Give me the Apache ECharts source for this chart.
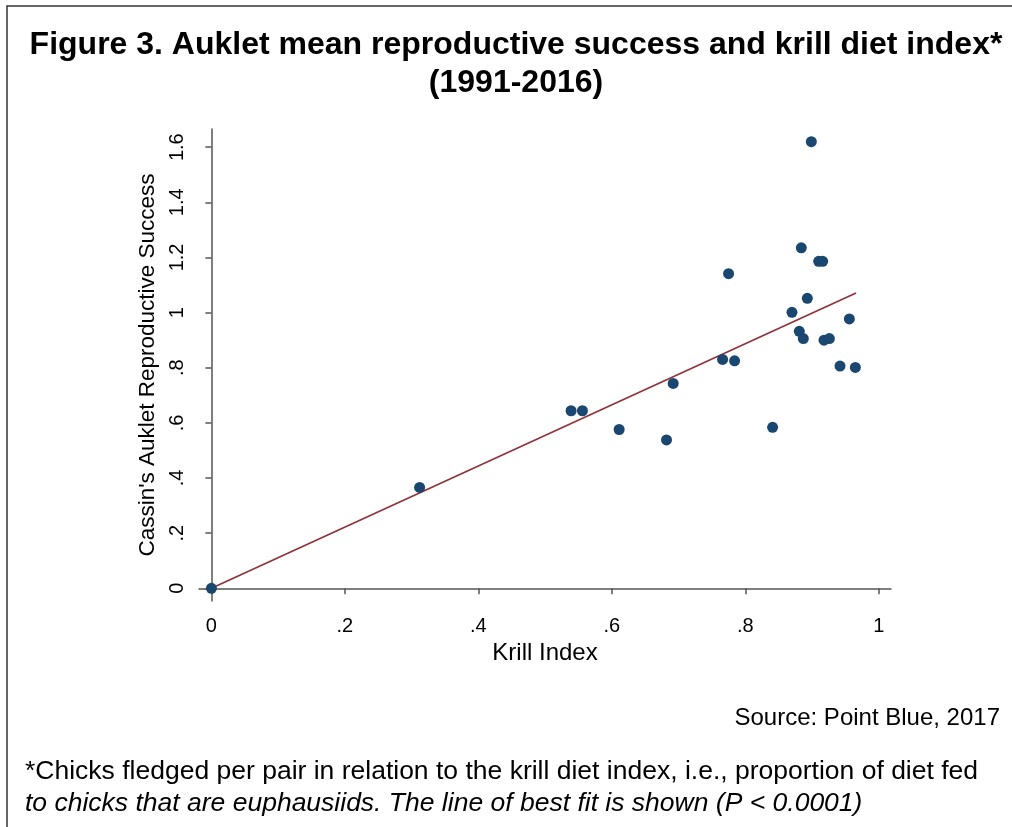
<!DOCTYPE html>
<html>
<head>
<meta charset="utf-8">
<script src="https://cdn.jsdelivr.net/npm/echarts@6/dist/echarts.min.js"></script>
<style>
  html, body { margin: 0; padding: 0; background: #fff; }
  #chart { width: 1012px; height: 827px; }
</style>
</head>
<body>
<div id="chart"></div>
<script>
// krill index (x) and reproductive success (y)
var krillIndex = [0, 0.312, 0.539, 0.556, 0.611, 0.682, 0.692, 0.766, 0.775, 0.784,
    0.841, 0.870, 0.881, 0.884, 0.887, 0.893, 0.899, 0.910, 0.916, 0.918,
    0.926, 0.942, 0.956, 0.965];
var repSuccess = [0, 0.366, 0.644, 0.644, 0.576, 0.538, 0.743, 0.830, 1.141, 0.825,
    0.584, 1.001, 0.932, 1.235, 0.906, 1.052, 1.620, 1.186, 1.186, 0.900,
    0.906, 0.806, 0.977, 0.801];
// line of best fit, start and end points
var fitX = [0, 0.966];
var fitY = [0, 1.071];
var xTicks = [0, 0.2, 0.4, 0.6, 0.8, 1];
var yTicks = [0, 0.2, 0.4, 0.6, 0.8, 1, 1.2, 1.4, 1.6];

var font = 'Liberation Sans, Arial, sans-serif';

function fmt(v) {
    var s = String(+v.toFixed(2));
    return s.replace(/^0\./, '.');
}

var points = krillIndex.map(function(x, i) { return [x, repSuccess[i]]; });
var fit = fitX.map(function(x, i) { return [x, fitY[i]]; });

var myChart = echarts.init(document.getElementById('chart'));
var option = {
    backgroundColor: '#fff',
    animation: false,
    title: [
        {
            text: 'Figure 3. Auklet mean reproductive success and krill diet index*\n(1991-2016)',
            left: 511,
            top: 21,
            textAlign: 'center',
            textStyle: {
                fontFamily: font,
                fontWeight: 'bold',
                fontSize: 32,
                lineHeight: 38,
                color: '#000'
            }
        }
    ],
    graphic: [
        {
            type: 'rect',
            shape: { x: 7, y: 6, width: 1030, height: 850 },
            style: { fill: 'none', stroke: '#333', lineWidth: 1.5 },
            silent: true
        },
        {
            type: 'text',
            right: 12,
            top: 706,
            style: { text: 'Source: Point Blue, 2017', font: '24px ' + font, fill: '#000' }
        },
        {
            type: 'text',
            left: 25,
            top: 758,
            style: { text: '*Chicks fledged per pair in relation to the krill diet index, i.e., proportion of diet fed', font: '26.5px ' + font, fill: '#000' }
        },
        {
            type: 'text',
            left: 25,
            top: 790,
            style: { text: 'to chicks that are euphausiids. The line of best fit is shown (P < 0.0001)', font: 'italic 26.5px ' + font, fill: '#000' }
        }
    ],
    grid: {
        left: 199,
        right: 121,
        top: 129,
        bottom: 226
    },
    xAxis: {
        type: 'value',
        min: -0.0186,
        max: 1.0184,
        name: 'Krill Index',
        nameLocation: 'middle',
        nameGap: 38,
        nameTextStyle: { fontFamily: font, fontSize: 24, color: '#000' },
        splitLine: { show: false },
        axisLine: { show: true, lineStyle: { color: '#555', width: 1.5 } },
        axisTick: { show: true, length: 6, customValues: xTicks, lineStyle: { color: '#555', width: 1.5 } },
        axisLabel: {
            customValues: xTicks,
            formatter: fmt,
            margin: 15,
            fontFamily: font,
            fontSize: 20,
            color: '#000'
        }
    },
    yAxis: {
        type: 'value',
        min: -0.0461,
        max: 1.666,
        name: "Cassin's Auklet Reproductive Success",
        nameLocation: 'middle',
        nameGap: 40,
        nameTextStyle: { fontFamily: font, fontSize: 22.5, color: '#000' },
        splitLine: { show: false },
        axisLine: { show: true, lineStyle: { color: '#555', width: 1.5 } },
        axisTick: { show: true, length: 6, customValues: yTicks, lineStyle: { color: '#555', width: 1.5 } },
        axisLabel: {
            customValues: yTicks,
            formatter: fmt,
            rotate: 90,
            margin: 12,
            fontFamily: font,
            fontSize: 20,
            color: '#000'
        }
    },
    series: [
        {
            type: 'line',
            data: fit,
            symbol: 'none',
            lineStyle: { color: '#90353b', width: 1.8 },
            z: 2
        },
        {
            type: 'scatter',
            data: points,
            symbolSize: 11,
            itemStyle: { color: '#1a476f', opacity: 1 },
            z: 3
        }
    ]
};
myChart.setOption(option);
</script>
</body>
</html>
